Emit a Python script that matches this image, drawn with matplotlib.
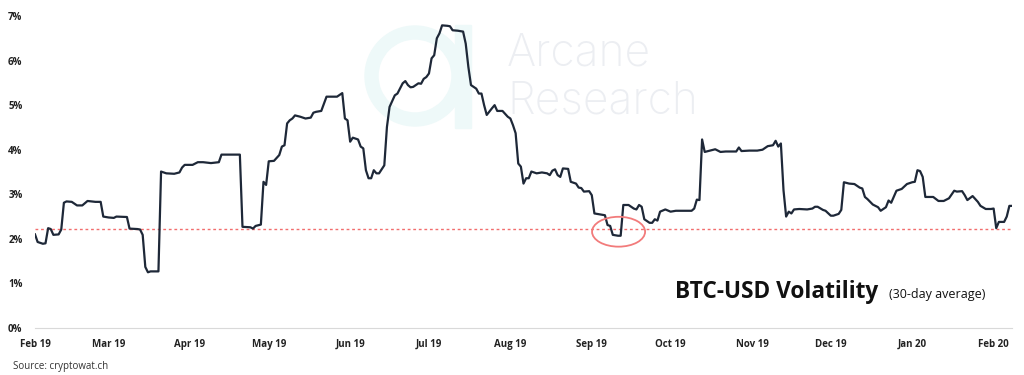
import datetime as dt
import matplotlib.pyplot as plt
import matplotlib.dates as mdates
from matplotlib.patches import Ellipse, Wedge, Rectangle

plt.rcParams["font.family"] = ["Open Sans", "DejaVu Sans"]

# dados (dias desde 1 fev 2019, volatilidade em %)
INICIO = dt.date(2019, 2, 1)
dias = [0, 1, 3, 4, 5, 6, 7, 9, 10, 11, 12, 14, 16, 18, 20, 23, 25, 26, 28, 30,
        31, 35, 36, 39, 40, 41, 42, 43, 44, 47, 48, 50, 53, 55, 56, 57, 60, 62,
        64, 67, 70, 71, 74, 78, 79, 82, 83, 84, 86, 87, 88, 89, 91, 93, 94, 95,
        96, 97, 98, 99, 101, 103, 105, 106, 107, 109, 111, 113, 115, 117, 118,
        119, 120, 121, 123, 124, 125, 126, 127, 128, 129, 130, 131, 133, 134,
        135, 137, 138, 140, 141, 142, 143, 144, 146, 147, 148, 149, 150, 151,
        152, 153, 154, 155, 157, 158, 159, 161, 163, 164, 165, 166, 168, 169,
        170, 171, 172, 174, 175, 176, 178, 180, 181, 182, 183, 184, 185, 186,
        187, 188, 189, 191, 193, 195, 196, 197, 198, 199, 200, 201, 203, 204,
        206, 207, 208, 209, 211, 212, 213, 215, 217, 218, 219, 220, 222, 223,
        224, 226, 227, 228, 229, 230, 231, 232, 234, 235, 236, 237, 238, 240,
        242, 244, 247, 250, 251, 252, 253, 254, 255, 257, 259, 261, 263, 267,
        268, 269, 272, 275, 277, 279, 281, 282, 283, 284, 285, 286, 287, 288,
        289, 291, 294, 296, 297, 298, 300, 301, 303, 304, 306, 307, 308, 310,
        312, 314, 315, 316, 317, 319, 321, 322, 324, 325, 326, 328, 330, 332,
        334, 335, 336, 337, 338, 339, 341, 342, 344, 346, 348, 350, 351, 353,
        354, 355, 357, 359, 360, 362, 364, 365, 366, 367, 369, 370, 371, 372]
vol = [2.10, 1.93, 1.89, 1.90, 2.24, 2.22, 2.09, 2.10, 2.21, 2.81, 2.84, 2.83,
       2.75, 2.75, 2.85, 2.83, 2.83, 2.50, 2.48, 2.47, 2.50, 2.49, 2.23, 2.22,
       2.21, 2.09, 1.37, 1.25, 1.27, 1.27, 3.51, 3.47, 3.46, 3.49, 3.60, 3.66,
       3.66, 3.72, 3.72, 3.70, 3.72, 3.89, 3.89, 3.89, 2.27, 2.26, 2.23, 2.29,
       2.32, 3.28, 3.21, 3.74, 3.75, 3.88, 4.07, 4.10, 4.59, 4.66, 4.70, 4.77,
       4.74, 4.70, 4.72, 4.83, 4.85, 4.87, 5.19, 5.19, 5.19, 5.27, 4.70, 4.66,
       4.18, 4.27, 4.23, 4.07, 4.03, 3.54, 3.36, 3.36, 3.54, 3.47, 3.47, 3.65,
       4.51, 4.96, 5.22, 5.26, 5.49, 5.54, 5.45, 5.40, 5.41, 5.49, 5.48, 5.59,
       5.63, 5.71, 6.05, 6.12, 6.50, 6.61, 6.79, 6.78, 6.77, 6.68, 6.67, 6.65,
       6.38, 5.86, 5.45, 5.37, 5.26, 5.26, 5.00, 4.78, 4.93, 5.00, 4.87, 4.87,
       4.74, 4.70, 4.55, 4.37, 3.69, 3.62, 3.24, 3.36, 3.36, 3.51, 3.47, 3.49,
       3.47, 3.43, 3.53, 3.56, 3.43, 3.39, 3.58, 3.57, 3.28, 3.24, 3.15, 3.14,
       3.06, 3.07, 2.98, 2.57, 2.55, 2.53, 2.31, 2.29, 2.09, 2.07, 2.07, 2.76,
       2.76, 2.72, 2.68, 2.66, 2.76, 2.72, 2.44, 2.36, 2.36, 2.44, 2.41, 2.61,
       2.66, 2.61, 2.63, 2.63, 2.63, 2.68, 2.88, 2.87, 4.23, 3.95, 3.98, 4.01,
       3.95, 3.96, 3.96, 4.05, 3.97, 3.98, 3.98, 4.00, 4.08, 4.10, 4.20, 4.07,
       4.14, 3.09, 2.50, 2.61, 2.57, 2.66, 2.67, 2.66, 2.68, 2.72, 2.72, 2.65,
       2.63, 2.52, 2.52, 2.56, 2.65, 3.27, 3.24, 3.23, 3.15, 3.13, 2.94, 2.89,
       2.77, 2.71, 2.63, 2.71, 2.86, 2.81, 3.08, 3.12, 3.23, 3.27, 3.28, 3.54,
       3.52, 3.39, 2.94, 2.94, 2.94, 2.85, 2.85, 2.91, 3.08, 3.06, 3.07, 2.98,
       2.87, 2.96, 2.83, 2.74, 2.67, 2.67, 2.68, 2.24, 2.38, 2.38, 2.50, 2.74,
       2.74]
nivel_ref = 2.21
meses = ["Feb 19", "Mar 19", "Apr 19", "May 19", "Jun 19", "Jul 19", "Aug 19",
         "Sep 19", "Oct 19", "Nov 19", "Dec 19", "Jan 20", "Feb 20"]
percentuais = [0, 1, 2, 3, 4, 5, 6, 7]
destaque_dia = 222.2
destaque_vol = 2.16

datas = [INICIO + dt.timedelta(days=d) for d in dias]

fig = plt.figure(figsize=(10.24, 3.75), dpi=100)
ax = fig.add_axes([35 / 1024, 1 - 328 / 375, 977 / 1024, 312 / 375])
ax.set_facecolor("none")

# marca d'agua
logo_cor = "#eef9f9"
fig.patches.append(Wedge((415, 299), 50, 0, 360, width=13, color=logo_cor,
                         transform=None, zorder=-2))
fig.patches.append(Rectangle((455, 247), 16, 103, color=logo_cor,
                             transform=None, zorder=-2))
fig.text(507 / 1024, 1 - 65 / 375, "Arcane", fontsize=32, family="Inter",
         weight="light", color="#eceef2", zorder=-1)
fig.text(507 / 1024, 1 - 113 / 375, "Research", fontsize=32, family="Inter",
         weight="light", color="#eceef2", zorder=-1)

ax.plot(datas, vol, color="#1e2838", lw=1.6, zorder=3)
ax.axhline(nivel_ref, color="#f26d6d", lw=1, ls=(0, (2, 2)), zorder=2)

centro = mdates.date2num(INICIO) + destaque_dia
ax.add_patch(Ellipse((centro, destaque_vol), 20.2, 0.67, fill=False,
                     edgecolor="#f27b7b", lw=1.3, zorder=4))

ticks_x = [dt.date(2019 + (1 + i) // 12, (1 + i) % 12 + 1, 1) for i in range(len(meses))]
ax.set_xticks(ticks_x)
ax.set_xticklabels(meses, fontsize=7, weight="bold", color="#222222")
ax.set_yticks(percentuais)
ax.set_yticklabels([f"{p}%" for p in percentuais], fontsize=7, weight="bold",
                   color="#222222")
ax.tick_params(length=0, axis="x", pad=8)
ax.tick_params(length=0, axis="y", pad=9)
ax.set_xlim(INICIO, INICIO + dt.timedelta(days=372.2))
ax.set_ylim(0, 7)
for lado in ["top", "right", "left"]:
    ax.spines[lado].set_visible(False)
ax.spines["bottom"].set_color("#d9d9d9")

fig.text(675 / 1024, 1 - 298 / 375, "BTC-USD Volatility", fontsize=16.3,
         weight="bold", color="#111111")
fig.text(889 / 1024, 1 - 298 / 375, "(30-day average)", fontsize=9,
         color="#111111")
fig.text(13 / 1024, 1 - 369 / 375, "Source: cryptowat.ch", fontsize=7,
         color="#333333")

fig.savefig("out.png", dpi=100)
